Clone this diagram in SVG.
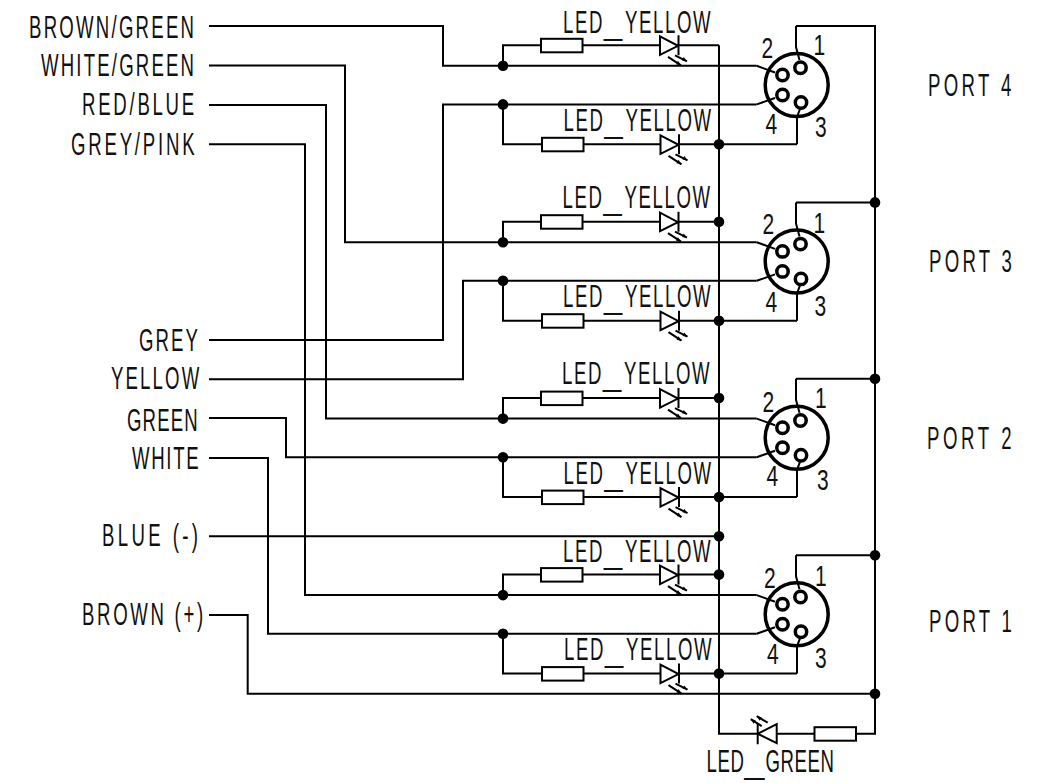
<svg xmlns="http://www.w3.org/2000/svg" width="1047" height="783" viewBox="0 0 1047 783">
<style>
text{font-family:"Liberation Sans",Arial,sans-serif;font-size:31px;fill:#111}
.n{font-size:30px}
.w{fill:none;stroke:#000;stroke-width:2}
.s{fill:none;stroke:#000;stroke-width:2}
.d{fill:#000}
.c{fill:none;stroke:#000;stroke-width:3.500}
</style>
<defs>
<g id="res"><rect class="s" x="0" y="-6.500" width="41.500" height="13.500"/></g>
<g id="led"><path class="s" d="M0-9V9.500L18 .5ZM18.500-10V10"/><path class="s" d="M8 11.500L21 20M15 10L27 16"/><path class="d" d="M21 20l-5-1 2-3.500ZM27 16l-5-.8 1.800-3.400Z"/></g>
<g id="gled"><path class="s" d="M19-9.500V9.500L0 0ZM0-10.500V10.500"/><path class="s" d="M10-11L-1-17.500M4-7.500L-7-14.500"/><path class="d" d="M-1-17.500l5 1-2 3.500ZM-7-14.500l5 1-2 3.500Z"/></g>
<g id="conn">
<circle class="c" cx="796.700" cy="85" r="31.500"/>
<circle class="c" cx="800.500" cy="67.700" r="5.700"/>
<circle class="c" cx="782.500" cy="75" r="5.700"/>
<circle class="c" cx="782.500" cy="95" r="5.700"/>
<circle class="c" cx="801" cy="102.500" r="5.700"/>
<path class="w" d="M796 26V47L799.500 60M756.700 65.800L775 72.500M756.700 104.400L775 98M797 144.300V117L800 109"/>
</g>
</defs>
<g id="connectors">
<path class="w" d="M209 26H443V65.800H756.700"/>
<path class="w" d="M209 65.500H345V242.200H756.700"/>
<path class="w" d="M209 105H326V418.600H756.700"/>
<path class="w" d="M209 144.300H305V595.100H756.700"/>
<path class="w" d="M209 340H443V104.400H756.700"/>
<path class="w" d="M209 379.300H463V280.800H756.700"/>
<path class="w" d="M209 418H286V457.200H756.700"/>
<path class="w" d="M209 458H268V633.700H756.700"/>
<path class="w" d="M209 536.200H719"/>
<path class="w" d="M209 615H247.700V693.700H875"/>
<path class="w" d="M719 45.300V733.700H757.700M776.700 733.700H814.500M856 733.700H875V26H796"/>
<path class="w" d="M503 65.800V45.300H541M582.500 45.300H660M678.500 45.300H719"/>
<path class="w" d="M503 104.400V144.300H542M583.500 144.300H660.500M679 144.300H797"/>
<path class="w" d="M503 242.200V221.700H541M582.500 221.700H660M678.500 221.700H719"/>
<path class="w" d="M503 280.800V320.700H542M583.500 320.700H660.500M679 320.700H797"/>
<path class="w" d="M503 418.600V398.100H541M582.500 398.100H660M678.500 398.100H719"/>
<path class="w" d="M503 457.200V497.100H542M583.500 497.100H660.500M679 497.100H797"/>
<path class="w" d="M503 595.100V574.600H541M582.500 574.600H660M678.500 574.600H719"/>
<path class="w" d="M503 633.700V673.600H542M583.500 673.600H660.500M679 673.600H797"/>
<path class="w" d="M875 202.400H796M875 378.800H796M875 555.300H796"/>
<g class="d">
<circle cx="503" cy="65.800" r="5.300"/><circle cx="503" cy="104.400" r="5.300"/><circle cx="503" cy="242.200" r="5.300"/><circle cx="503" cy="280.800" r="5.300"/>
<circle cx="503" cy="418.600" r="5.300"/><circle cx="503" cy="457.200" r="5.300"/><circle cx="503" cy="595.100" r="5.300"/><circle cx="503" cy="633.700" r="5.300"/>
<circle cx="719" cy="144.300" r="5.300"/><circle cx="719" cy="221.700" r="5.300"/><circle cx="719" cy="320.700" r="5.300"/><circle cx="719" cy="398.100" r="5.300"/>
<circle cx="719" cy="497.100" r="5.300"/><circle cx="719" cy="536.200" r="5.300"/><circle cx="719" cy="574.600" r="5.300"/><circle cx="719" cy="673.600" r="5.300"/>
<circle cx="875" cy="202.400" r="5.300"/><circle cx="875" cy="378.800" r="5.300"/><circle cx="875" cy="555.300" r="5.300"/><circle cx="875" cy="693.700" r="5.300"/>
</g>
</g>
<g id="wire-labels">
<text transform="translate(29,38) scale(.6,1)" textLength="275">BROWN/GREEN</text>
<text transform="translate(41,76) scale(.6,1)" textLength="255">WHITE/GREEN</text>
<text transform="translate(82,115) scale(.6,1)" textLength="187">RED/BLUE</text>
<text transform="translate(71,155) scale(.6,1)" textLength="206">GREY/PINK</text>
<text transform="translate(139,350.500) scale(.6,1)" textLength="98">GREY</text>
<text transform="translate(111,388.500) scale(.6,1)" textLength="147">YELLOW</text>
<text transform="translate(127,431) scale(.6,1)" textLength="118">GREEN</text>
<text transform="translate(132,468.500) scale(.6,1)" textLength="111">WHITE</text>
<text transform="translate(102,546) scale(.6,1)" textLength="160">BLUE (-)</text>
<text transform="translate(82,625) scale(.6,1)" textLength="202">BROWN (+)</text>
</g>
<g id="port-4">
<use href="#conn"/>
<use href="#res" x="541" y="45.300"/><use href="#led" x="660" y="45.300"/>
<use href="#res" x="542" y="144.300"/><use href="#led" x="660.500" y="144.300"/>
<text transform="translate(563,33) scale(.6,1)" letter-spacing="2.700">LED<tspan dy="2" textLength="35" lengthAdjust="spacingAndGlyphs">_</tspan><tspan dy="-2">YELLOW</tspan></text>
<text transform="translate(563.500,131) scale(.6,1)" letter-spacing="2.700">LED<tspan dy="2" textLength="35" lengthAdjust="spacingAndGlyphs">_</tspan><tspan dy="-2">YELLOW</tspan></text>
<text class="n" transform="translate(761.500,58.300) scale(.7,1)">2</text><text class="n" transform="translate(813.500,55) scale(.7,1)">1</text><text class="n" transform="translate(765.500,134.300) scale(.7,1)">4</text><text class="n" transform="translate(815,137.300) scale(.7,1)">3</text>
<text transform="translate(928,96) scale(.6,1)" textLength="139">PORT 4</text>
</g>
<g id="port-3">
<use href="#conn" y="176.400"/>
<use href="#res" x="541" y="221.700"/><use href="#led" x="660" y="221.700"/>
<use href="#res" x="542" y="320.700"/><use href="#led" x="660.500" y="320.700"/>
<text transform="translate(562.500,208) scale(.6,1)" letter-spacing="2.700">LED<tspan dy="2" textLength="35" lengthAdjust="spacingAndGlyphs">_</tspan><tspan dy="-2">YELLOW</tspan></text>
<text transform="translate(563,307) scale(.6,1)" letter-spacing="2.700">LED<tspan dy="2" textLength="35" lengthAdjust="spacingAndGlyphs">_</tspan><tspan dy="-2">YELLOW</tspan></text>
<text class="n" transform="translate(762.500,234) scale(.7,1)">2</text><text class="n" transform="translate(813.500,233.300) scale(.7,1)">1</text><text class="n" transform="translate(765.500,311.700) scale(.7,1)">4</text><text class="n" transform="translate(814.500,315.700) scale(.7,1)">3</text>
<text transform="translate(929,272) scale(.6,1)" textLength="138">PORT 3</text>
</g>
<g id="port-2">
<use href="#conn" y="352.800"/>
<use href="#res" x="541" y="398.100"/><use href="#led" x="660" y="398.100"/>
<use href="#res" x="542" y="497.100"/><use href="#led" x="660.500" y="497.100"/>
<text transform="translate(562,384) scale(.6,1)" letter-spacing="2.700">LED<tspan dy="2" textLength="35" lengthAdjust="spacingAndGlyphs">_</tspan><tspan dy="-2">YELLOW</tspan></text>
<text transform="translate(563.500,483.700) scale(.6,1)" letter-spacing="2.700">LED<tspan dy="2" textLength="35" lengthAdjust="spacingAndGlyphs">_</tspan><tspan dy="-2">YELLOW</tspan></text>
<text class="n" transform="translate(762.500,411.700) scale(.7,1)">2</text><text class="n" transform="translate(815,408) scale(.7,1)">1</text><text class="n" transform="translate(766.500,486) scale(.7,1)">4</text><text class="n" transform="translate(817,490) scale(.7,1)">3</text>
<text transform="translate(927,449) scale(.6,1)" textLength="141">PORT 2</text>
</g>
<g id="port-1">
<use href="#conn" y="529.300"/>
<use href="#res" x="541" y="574.600"/><use href="#led" x="660" y="574.600"/>
<use href="#res" x="542" y="673.600"/><use href="#led" x="660.500" y="673.600"/>
<text transform="translate(563,561.700) scale(.6,1)" letter-spacing="2.700">LED<tspan dy="2" textLength="35" lengthAdjust="spacingAndGlyphs">_</tspan><tspan dy="-2">YELLOW</tspan></text>
<text transform="translate(564,660) scale(.6,1)" letter-spacing="2.700">LED<tspan dy="2" textLength="35" lengthAdjust="spacingAndGlyphs">_</tspan><tspan dy="-2">YELLOW</tspan></text>
<text class="n" transform="translate(764,587.700) scale(.7,1)">2</text><text class="n" transform="translate(815,585.700) scale(.7,1)">1</text><text class="n" transform="translate(767,664.300) scale(.7,1)">4</text><text class="n" transform="translate(815,668.300) scale(.7,1)">3</text>
<text transform="translate(929,632) scale(.6,1)" textLength="138">PORT 1</text>
</g>
<g id="led-green">
<use href="#gled" x="757.700" y="733.700"/><use href="#res" x="814.500" y="733.700"/>
<text transform="translate(706.500,772) scale(.6,1)" letter-spacing="1">LED<tspan dy="2" textLength="35" lengthAdjust="spacingAndGlyphs">_</tspan><tspan dy="-2">GREEN</tspan></text>
</g>
</svg>
